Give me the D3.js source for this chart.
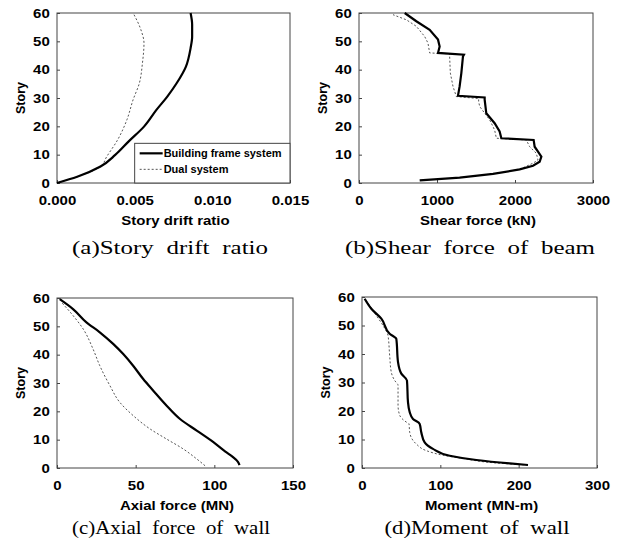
<!DOCTYPE html>
<html lang="en">
<head>
<meta charset="utf-8">
<title>Story response</title>
<script src="https://cdn.jsdelivr.net/npm/d3@7"></script>
<style>
body { margin: 0; background: #fff; }
.tick text { font-family: "Liberation Sans", Arial, sans-serif; font-weight: bold; font-size: 12.5px; fill: #000; }
.ttl { font-family: "Liberation Sans", Arial, sans-serif; font-weight: bold; font-size: 12.5px; }
.cap { font-family: "Liberation Serif", "DejaVu Serif", serif; font-size: 19px; word-spacing: 5px; }
.leg { font-family: "Liberation Sans", Arial, sans-serif; font-weight: bold; font-size: 10px; }
</style>
</head>
<body>
<script>
// [value, story] pairs
var driftFrame = [[0,0],[0.0013,2.2],[0.0028,5.8],[0.00375,9.9],[0.0046,14.6],[0.0056,19.9],[0.0064,25.8],[0.0071,30.5],[0.0077,35.2],[0.0083,41.1],[0.0086,47.6],[0.0087,51.7],[0.0087,55.9],[0.0086,60]];
var driftDual = [[0,0],[0.0013,2.2],[0.0028,5.8],[0.0032,9.3],[0.0039,15.2],[0.0045,22.3],[0.0049,29.4],[0.0053,35.2],[0.0055,42.3],[0.0056,49.4],[0.0054,54.1],[0.0049,60]];

var shearFrame = [[778,0.9],[1290,1.9],[1718,3.2],[2060,4.8],[2231,6.1],[2316,7.5],[2338,9.3],[2295,11.1],[2252,12.8],[2239,15.2],[1825,15.8],[1803,18.2],[1739,21.1],[1632,24.6],[1611,29.4],[1611,30.2],[1269,30.8],[1290,34.1],[1312,38.8],[1333,44.7],[1345,45.3],[1013,45.9],[1034,48.2],[1013,50.6],[906,54.1],[735,57.1],[586,60]];
var shearDual = [[2060,4.8],[2231,7.0],[2295,8.1],[2273,10.5],[2188,12.8],[2145,15.2],[1761,15.8],[1739,18.7],[1675,22.3],[1547,27.0],[1534,28.8],[1534,29.8],[1248,30.5],[1205,34.1],[1171,38.8],[1162,44.7],[1162,45.6],[906,45.9],[884,49.4],[842,51.7],[735,55.3],[607,57.6],[436,59.4]];

var axialFrame = [[116,1.0],[115,2.2],[111.5,4.0],[107,5.8],[99.4,9.1],[88.8,13.2],[78.2,17.3],[69.7,22.0],[61.2,27.3],[54.8,31.4],[48.4,36.1],[42.1,40.2],[35.7,43.8],[27.2,47.9],[18.7,51.4],[10.2,56.1],[1.7,59.6]];
var axialDual = [[94.1,0.8],[88.8,3.2],[80.3,6.7],[69.7,10.2],[59.1,13.8],[48.4,18.5],[39.9,23.2],[33.6,29.1],[27.2,36.1],[22.9,42.0],[16.6,49.1],[10.2,53.8],[2.8,58.5]];

var momentFrame = [[211.9,1.05],[188.5,1.6],[146,2.8],[112,4.3],[90.6,6.7],[80,9.0],[75.7,12.5],[73.6,15.5],[65.1,17.2],[60.9,19.6],[58.7,23.1],[57.4,30.7],[50.2,33.1],[46,37.1],[43.8,45.3],[35.3,47.1],[24.7,52.4],[11.9,55.9],[3.4,59.4]];
var momentDual = [[211.9,1.05],[170,1.8],[130,3.3],[103,4.5],[82,6.1],[69.4,8.4],[60.9,12.5],[60,15.5],[56.6,16.1],[48.1,18.5],[46,22],[46,29],[41.7,30.7],[37.4,33.6],[35.3,39.5],[33.2,46.5],[26.8,50],[18.3,53.5],[5.5,58.8]];

var storyTicks = [0, 10, 20, 30, 40, 50, 60];
var legendLabels = ["Building frame system", "Dual system"];

// the source figure is stretched sideways, so horizontal text gets widened
var stretch = 1.2;

var panels = [
  {left: 57, top: 13, w: 233, h: 170, max: 0.015, ticks: [0, 0.005, 0.01, 0.015], fmt: d3.format(".3f"),
   title: "Story drift ratio", cap: "(a)Story drift ratio", capX: 170, capY: 254, capW: 196,
   storyX: 20, frame: driftFrame, dual: driftDual, smooth: true, legend: true},
  {left: 359, top: 13, w: 234, h: 170, max: 3000, ticks: [0, 1000, 2000, 3000], fmt: d3.format("d"),
   title: "Shear force (kN)", cap: "(b)Shear force of beam", capX: 470, capY: 254, capW: 250,
   storyX: 322, frame: shearFrame, dual: shearDual, smooth: false},
  {left: 57, top: 298, w: 236, h: 170, max: 150, ticks: [0, 50, 100, 150], fmt: d3.format("d"),
   title: "Axial force (MN)", cap: "(c)Axial force of wall", capX: 171, capY: 534, capW: 198,
   storyX: 20, frame: axialFrame, dual: axialDual, smooth: true},
  {left: 362, top: 297, w: 235, h: 171, max: 300, ticks: [0, 100, 200, 300], fmt: d3.format("d"),
   title: "Moment (MN-m)", cap: "(d)Moment of wall", capX: 477, capY: 534, capW: 185,
   storyX: 325, frame: momentFrame, dual: momentDual, smooth: true}
];

var svg = d3.select("body").append("svg").attr("width", 620).attr("height", 544);

panels.forEach(function(p) {
  var x = d3.scaleLinear().domain([0, p.max]).range([0, p.w]);
  var y = d3.scaleLinear().domain([0, 60]).range([p.h, 0]);
  var g = svg.append("g").attr("transform", "translate(" + p.left + "," + p.top + ")");

  g.append("rect").attr("width", p.w).attr("height", p.h)
    .attr("fill", "none").attr("stroke", "#444").attr("stroke-width", 1);

  var ya = g.append("g").call(d3.axisLeft(y).tickValues(storyTicks).tickSize(-3).tickPadding(6));
  var xa = g.append("g").attr("transform", "translate(0," + p.h + ")")
    .call(d3.axisBottom(x).tickValues(p.ticks).tickFormat(p.fmt).tickSize(-3).tickPadding(13));
  [ya, xa].forEach(function(a) {
    a.select(".domain").remove();
    a.selectAll(".tick line").attr("stroke", "#444");
    a.selectAll(".tick text").attr("transform", "scale(" + stretch + ",1)");
  });

  g.append("text").attr("class", "ttl")
    .attr("transform", "translate(" + (p.w / 2 + 2) + "," + (p.h + 42) + ") scale(" + stretch + ",1)")
    .attr("text-anchor", "middle").text(p.title);
  svg.append("text").attr("class", "ttl")
    .attr("transform", "translate(" + (p.storyX + 5) + "," + (p.top + p.h / 2) + ") rotate(-90)")
    .attr("text-anchor", "middle").text("Story");
  svg.append("text").attr("class", "cap").attr("x", p.capX - p.capW / 2).attr("y", p.capY)
    .attr("textLength", p.capW).attr("lengthAdjust", "spacingAndGlyphs").text(p.cap);

  var line = d3.line().x(function(d) { return x(d[0]); }).y(function(d) { return y(d[1]); })
    .curve(p.smooth ? d3.curveMonotoneY : d3.curveLinear);

  g.append("path").datum(p.dual).attr("d", line).attr("fill", "none")
    .attr("stroke", "#555").attr("stroke-width", 1).attr("stroke-dasharray", "2,2");
  g.append("path").datum(p.frame).attr("d", line).attr("fill", "none")
    .attr("stroke", "#000").attr("stroke-width", 2.2);

  if (p.legend) {
    var lg = g.append("g").attr("transform", "translate(" + x(0.005) + "," + y(14) + ")");
    lg.append("rect").attr("width", p.w - x(0.005)).attr("height", p.h - y(14))
      .attr("fill", "#fff").attr("stroke", "#444");
    legendLabels.forEach(function(lab, i) {
      var yy = 10 + i * 16;
      lg.append("line").attr("x1", 5).attr("x2", 28).attr("y1", yy).attr("y2", yy)
        .attr("stroke", i ? "#555" : "#000").attr("stroke-width", i ? 1 : 2.2)
        .attr("stroke-dasharray", i ? "2,2" : null);
      lg.append("text").attr("class", "leg")
        .attr("transform", "translate(29," + (yy + 3.5) + ") scale(1.1,1)").text(lab);
    });
  }
});
</script>
</body>
</html>
